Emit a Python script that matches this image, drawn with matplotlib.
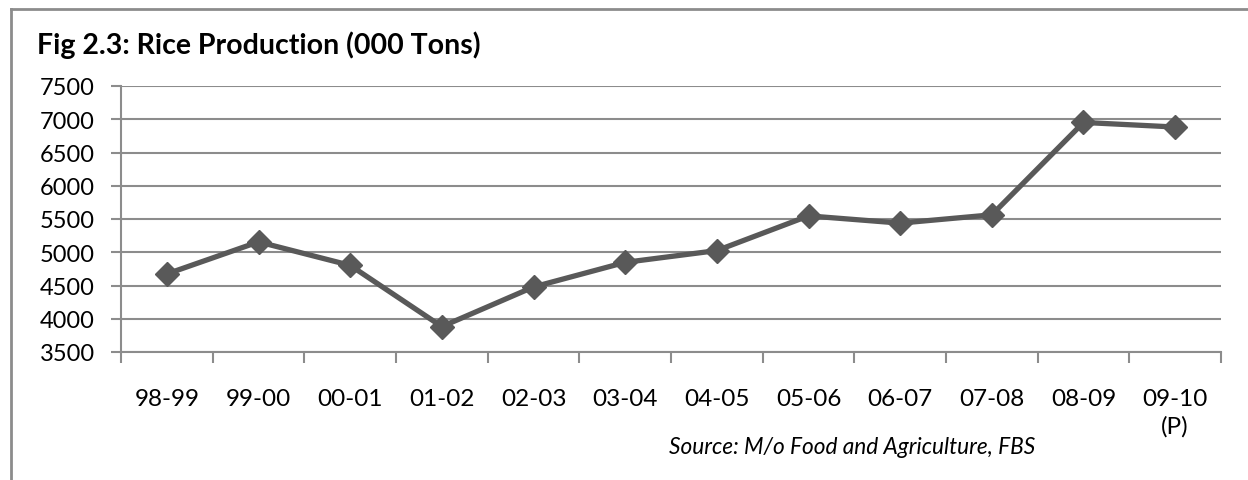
import matplotlib.pyplot as plt
from matplotlib.lines import Line2D
import numpy as np

plt.rcParams['font.family'] = ['Lato', 'DejaVu Sans']

years = ["98-99", "99-00", "00-01", "01-02", "02-03", "03-04",
         "04-05", "05-06", "06-07", "07-08", "08-09", "09-10\n(P)"]
production = [4674, 5156, 4803, 3882, 4478, 4848, 5025, 5547, 5438, 5563, 6952, 6883]
y_ticks = [3500, 4000, 4500, 5000, 5500, 6000, 6500, 7000, 7500]

W, H = 1248, 481
fig = plt.figure(figsize=(W / 100, H / 100), dpi=100)
ax = fig.add_axes([121 / W, 1 - 353 / H, 1100 / W, 266 / H])

x = np.arange(len(years))
ax.plot(x, production, color='#595959', lw=3.8, marker='D', markersize=12,
        markerfacecolor='#595959', markeredgecolor='#595959', zorder=3)

ax.set_xlim(-0.5, len(years) - 0.5)
ax.set_ylim(3500, 7500)
ax.set_yticks(y_ticks)
ax.set_xticks(x)
ax.set_xticklabels(years, fontsize=17.5, linespacing=1.35)
ax.set_xticks(np.arange(-0.5, len(years)), minor=True)
ax.tick_params(axis='x', which='major', length=0, pad=26)
ax.tick_params(axis='x', which='minor', length=8, width=1.5, color='#8c8c8c', direction='out')
ax.tick_params(axis='y', length=7, width=1.5, color='#8c8c8c', labelsize=17, pad=12)
ax.grid(axis='y', color='#8c8c8c', lw=1.5)
ax.set_axisbelow(True)

for s in ['top', 'right']:
    ax.spines[s].set_visible(False)
for s in ['left', 'bottom']:
    ax.spines[s].set_color('#8c8c8c')
    ax.spines[s].set_linewidth(1.5)

fig.text(37 / W, 1 - 45 / H, "Fig 2.3: Rice Production (000 Tons)", fontsize=20.5,
         fontweight='bold', ha='left', va='center')
fig.text(1035 / W, 1 - 448 / H, "Source: M/o Food and Agriculture, FBS", fontsize=16.3,
         style='italic', ha='right', va='center')

# outer frame (top and left edges visible)
fig.add_artist(Line2D([11 / W, 1], [1 - 10 / H, 1 - 10 / H], color='#8c8c8c', lw=2))
fig.add_artist(Line2D([11 / W, 11 / W], [0, 1 - 10 / H], color='#8c8c8c', lw=2))

fig.savefig("out.png", dpi=100)
